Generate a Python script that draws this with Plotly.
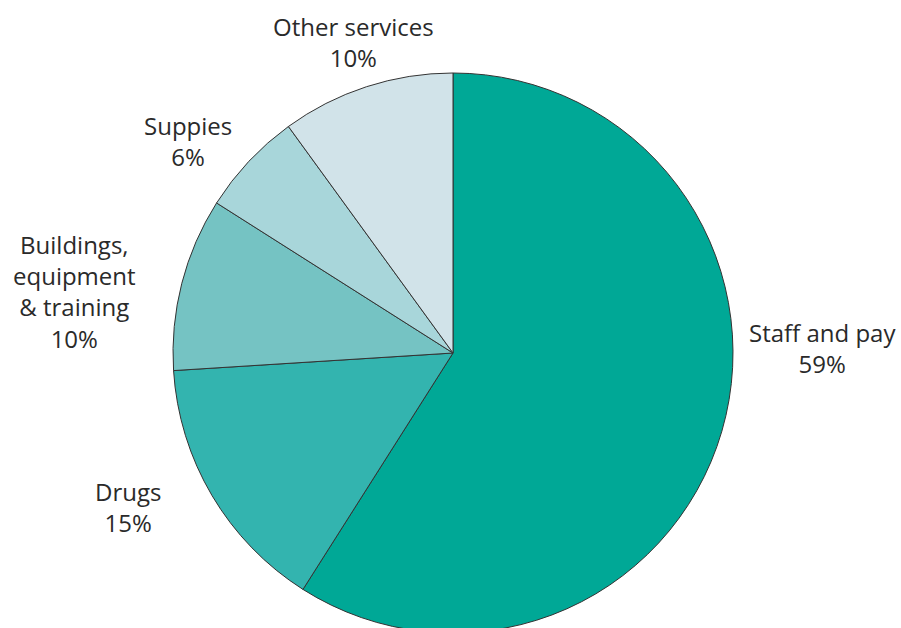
import plotly.graph_objects as go

# Data
categories = ["Staff and pay", "Drugs", "Buildings, equipment & training", "Suppies", "Other services"]
values = [59, 15, 10, 6, 10]
label_text = ["Staff and pay<br>59%", "Drugs<br>15%", "Buildings,<br>equipment<br>& training<br>10%",
              "Suppies<br>6%", "Other services<br>10%"]

# Style
colors = ["#00A896", "#33B4AF", "#75C3C3", "#A8D6DA", "#D1E3E9"]
W, H = 901, 640
# label centres in pixels (layout only)
label_px = [(822, 348), (128, 507), (74, 291), (188, 141), (353, 42)]

fig = go.Figure(go.Pie(
    labels=categories,
    values=values,
    sort=False,
    direction="clockwise",
    rotation=0,
    marker=dict(colors=colors, line=dict(color="#333333", width=1)),
    textinfo="none",
    hoverinfo="label+percent",
    showlegend=False,
    domain=dict(x=[173 / W, 733 / W], y=[1 - 633 / H, 1 - 73 / H]),
))

for txt, (px, py) in zip(label_text, label_px):
    fig.add_annotation(
        text=txt, x=px / W, y=1 - py / H, xref="paper", yref="paper",
        xanchor="center", yanchor="middle", showarrow=False, align="center",
        font=dict(family="Open Sans", size=24, color="#2a2a2a"),
    )

fig.update_layout(
    width=W, height=H,
    margin=dict(l=0, r=0, t=0, b=0),
    paper_bgcolor="white", plot_bgcolor="white",
)

fig.write_html("out.html", post_script="document.body.style.overflow='hidden';document.documentElement.style.overflow='hidden';")
